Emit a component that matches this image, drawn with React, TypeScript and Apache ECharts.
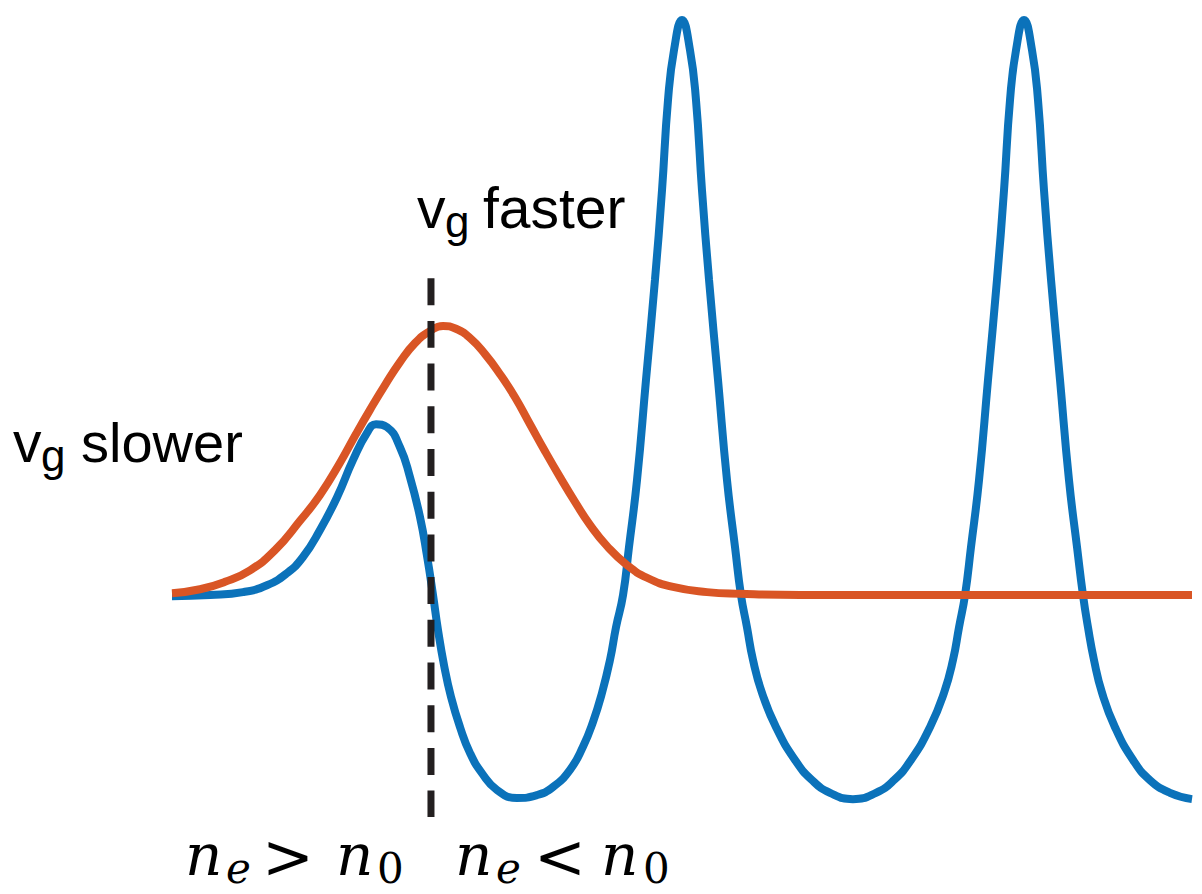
import React, { useEffect, useRef } from "react";
import * as echarts from "echarts";

// Plasma wake (blue): normalised position along the axis and normalised amplitude.
const wakeX = [
  0, 0.373, 0.696, 0.931, 1.127, 1.284, 1.451, 1.618, 1.775, 1.912, 2.0, 2.108, 2.235, 2.333,
  2.431, 2.5, 2.559,
  2.608, 2.667, 2.735, 2.824, 2.922, 3.039, 3.186, 3.382, 3.578, 3.735, 3.902, 4.029, 4.127,
  4.216, 4.294, 4.353, 4.422,
  4.48, 4.559, 4.647, 4.735, 4.804, 4.863, 4.922, 5.0, 5.078, 5.137, 5.196, 5.265, 5.353,
  5.441, 5.52, 5.578,
  5.637, 5.696, 5.784, 5.922, 6.108, 6.275, 6.451, 6.676, 6.902, 7.078, 7.245, 7.431, 7.569,
  7.657, 7.716, 7.775,
  7.833, 7.912, 8.0, 8.088, 8.157, 8.216, 8.275, 8.353, 8.431, 8.49, 8.549, 8.618, 8.706,
  8.794, 8.873, 8.931,
  8.98, 9.039, 9.118, 9.245, 9.422, 9.588, 9.784, 10.0,
];
const wakeY = [
  -0.002, 0, 0.005, 0.017, 0.038, 0.066, 0.113, 0.17, 0.235, 0.282, 0.297, 0.292, 0.257, 0.205,
  0.136, 0.068, 0,
  -0.061, -0.122, -0.177, -0.23, -0.275, -0.31, -0.339, -0.353, -0.348, -0.334, -0.304, -0.264,
  -0.221, -0.17, -0.113, -0.056, 0,
  0.083, 0.2, 0.374, 0.548, 0.704, 0.861, 0.948, 1.0, 0.948, 0.861, 0.704, 0.548, 0.374, 0.2,
  0.083, 0,
  -0.056, -0.113, -0.17, -0.23, -0.287, -0.322, -0.344, -0.355, -0.344, -0.322, -0.287, -0.23,
  -0.17, -0.113, -0.056, 0,
  0.083, 0.2, 0.374, 0.548, 0.704, 0.861, 0.948, 1.0, 0.948, 0.861, 0.704, 0.548, 0.374, 0.2,
  0.083, 0,
  -0.056, -0.113, -0.17, -0.23, -0.287, -0.322, -0.344, -0.355,
];

// Driver pulse envelope (orange).
const pulseX = [
  0, 0.275, 0.52, 0.765, 1.01, 1.255, 1.451, 1.647, 1.804, 1.941, 2.088, 2.235, 2.382, 2.529,
  2.657, 2.784, 2.922, 3.069, 3.216, 3.363, 3.51, 3.657, 3.804, 3.951, 4.098, 4.265, 4.461,
  4.657, 4.912, 5.245, 5.569, 6.157, 10.0,
];
const pulseY = [
  0.003, 0.01, 0.023, 0.043, 0.078, 0.129, 0.174, 0.23, 0.28, 0.322, 0.365, 0.405, 0.438,
  0.459, 0.468, 0.463, 0.447, 0.419, 0.384, 0.344, 0.297, 0.25, 0.205, 0.162, 0.122, 0.085,
  0.052, 0.03, 0.014, 0.005, 0.002, 0, 0,
];

// Density boundary marker (dashed).
const boundaryX = [2.539, 2.539];
const boundaryY = [0.551, -0.386];

const fasterText = "faster";
const slowerText = "slower";
const vText = "v";
const gText = "g";

const SANS = "'Liberation Sans', Arial, Helvetica, sans-serif";
const SERIF = "'DejaVu Serif', serif";

function zip(xs: number[], ys: number[]) {
  return xs.map((x, i) => [x, ys[i]]);
}

function glyph(
  text: string,
  x: number,
  y: number,
  size: number,
  family: string,
  italic = false
) {
  return {
    type: "text",
    x,
    y,
    silent: true,
    style: {
      text,
      fill: "#000000",
      fontFamily: family,
      fontSize: size,
      fontStyle: italic ? "italic" : "normal",
      align: "left",
      verticalAlign: "middle",
    },
  };
}

export default function App() {
  const ref = useRef<HTMLDivElement>(null);

  useEffect(() => {
    if (!ref.current) return;
    const chart = echarts.init(ref.current, undefined, { renderer: "svg" });

    const option = {
      animation: false,
      backgroundColor: "#ffffff",
      grid: { left: 172, right: 10, top: 20, bottom: 69, containLabel: false },
      xAxis: { type: "value", min: 0, max: 10, show: false },
      yAxis: { type: "value", min: -0.4, max: 1, show: false },
      series: [
        {
          type: "line",
          data: zip(wakeX, wakeY),
          smooth: 0.5,
          showSymbol: false,
          clip: false,
          lineStyle: { color: "#0B72BA", width: 8 },
          z: 2,
        },
        {
          type: "line",
          data: zip(pulseX, pulseY),
          smooth: 0.5,
          showSymbol: false,
          clip: false,
          lineStyle: { color: "#D95525", width: 8 },
          z: 3,
        },
        {
          type: "line",
          data: zip(boundaryX, boundaryY),
          showSymbol: false,
          clip: false,
          lineStyle: { color: "#231F20", width: 7, type: [27, 15.7], cap: "butt" },
          z: 4,
        },
      ],
      graphic: [
        // v_g faster
        glyph(vText, 417, 208, 57, SANS),
        glyph(gText, 445, 221, 44, SANS),
        glyph(fasterText, 483, 208, 57, SANS),
        // v_g slower
        glyph(vText, 13, 442, 57, SANS),
        glyph(gText, 41, 455, 44, SANS),
        glyph(slowerText, 81, 442, 56, SANS),
        // n_e > n_0
        glyph("n", 185, 855, 58, SERIF, true),
        glyph("e", 226, 868, 42, SERIF, true),
        glyph(">", 262, 856, 62, SERIF),
        glyph("n", 336, 855, 58, SERIF, true),
        glyph("0", 377, 868, 42, SERIF),
        // n_e < n_0
        glyph("n", 455, 855, 58, SERIF, true),
        glyph("e", 496, 868, 42, SERIF, true),
        glyph("<", 534, 856, 62, SERIF),
        glyph("n", 601, 855, 58, SERIF, true),
        glyph("0", 643, 868, 42, SERIF),
      ],
    };

    chart.setOption(option as any);
    return () => chart.dispose();
  }, []);

  return (
    <div
      ref={ref}
      style={{ position: "absolute", left: 0, top: 0, width: 1202, height: 894 }}
    />
  );
}
